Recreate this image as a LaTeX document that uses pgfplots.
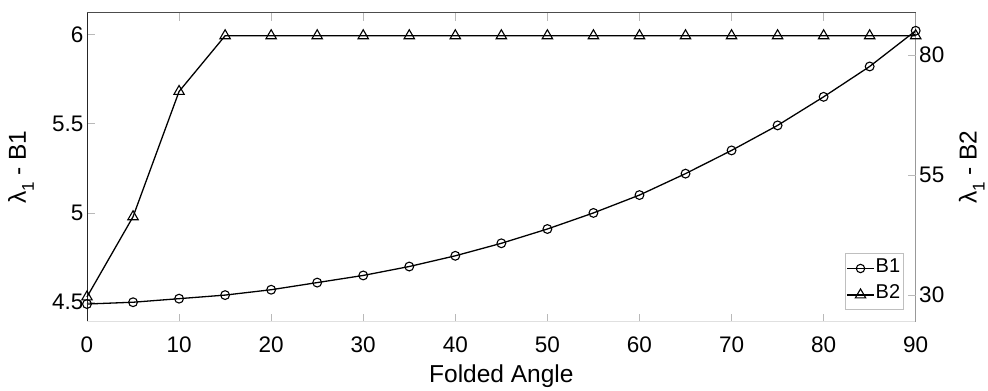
\documentclass[border=0pt]{standalone}
\usepackage{pgfplots}
\pgfplotsset{compat=1.18}
\usepackage{fontspec}
\setmainfont{Liberation Sans}
\pgfplotstableread{
x y
0 4.49
5 4.50
10 4.52
15 4.54
20 4.57
25 4.61
30 4.65
35 4.70
40 4.76
45 4.83
50 4.91
55 5.00
60 5.10
65 5.22
70 5.35
75 5.49
80 5.65
85 5.82
90 6.02
}\bone
\pgfplotstableread{
x y
0 29.6
5 46.3
10 72.4
15 84.0
20 84.0
25 84.0
30 84.0
35 84.0
40 84.0
45 84.0
50 84.0
55 84.0
60 84.0
65 84.0
70 84.0
75 84.0
80 84.0
85 84.0
90 84.0
}\btwo
\newcommand{\lam}{λ\raisebox{-0.32em}{\fontsize{17}{17}\selectfont 1}}
\begin{document}
\begin{tikzpicture}
\pgfplotsset{
  every axis/.append style={
    scale only axis, width=828.7pt, height=309pt,
    xmin=0, xmax=90, clip=false,
    font=\fontsize{22.5}{26}\selectfont,
    tick align=inside, major tick length=8pt,
    tick style={gray!55, line width=0.8pt},
    /pgf/number format/assume math mode=true,
    axis line style={draw=none},
  },
  mystyle/.style={black, line width=1.3pt, mark options={solid, line width=1.1pt, fill=none}},
}
\begin{axis}[
  xtick={0,10,...,90},
  xtick pos=both,
  ytick={4.5,5,5.5,6},
  ytick pos=left,
  ymin=4.391, ymax=6.121,
  xticklabel style={anchor=base, yshift=-30.6pt},
  every axis x label/.style={at={([yshift=-61pt]rel axis cs:0.5,0)}, anchor=base, font=\fontsize{24.5}{28}\selectfont},
  every axis y label/.style={at={([xshift=-61pt]rel axis cs:0,0.5)}, anchor=base, rotate=90, font=\fontsize{24.5}{28}\selectfont},
  xlabel={Folded Angle},
  ylabel={\lam\ - B1},
]
\addplot[mystyle, mark=o, mark size=4.4pt] table[x=x,y=y]{\bone};
\draw[black!85, line width=0.9pt] (rel axis cs:0,0) -- (rel axis cs:0,1);
\draw[black!70, line width=0.9pt] (rel axis cs:0,1) -- (rel axis cs:1,1);
\draw[black!12, line width=0.9pt] (rel axis cs:0,0) -- (rel axis cs:1,0);
\draw[black!40, line width=0.9pt] (rel axis cs:1,0) -- (rel axis cs:1,1);
\end{axis}
\begin{axis}[
  axis x line=none,
  axis y line*=right,
  ymin=24.44, ymax=88.8,
  ytick={30,55,80},
  ytick pos=right,
  every axis y label/.style={at={([xshift=61pt]rel axis cs:1,0.5)}, anchor=base, rotate=90, font=\fontsize{24.5}{28}\selectfont},
  ylabel={\lam\ - B2},
  legend cell align=left,
  legend style={at={([xshift=-12.4pt,yshift=11.7pt]rel axis cs:1,0)}, anchor=south east, draw=black!25, line width=0.8pt, font=\fontsize{20}{22}\selectfont, inner xsep=1.5pt, inner ysep=1.5pt, nodes={font=\fontsize{20}{22}\selectfont, inner sep=1.2pt, text height=16pt, text depth=8pt}},
  legend image code/.code={\draw[mark repeat=2,mark phase=2,#1] plot coordinates {(0cm,0cm)(0.47cm,0cm)(0.94cm,0cm)};},
]
\addlegendimage{mystyle, line width=1pt, mark=o, mark size=4.2pt}
\addlegendentry{B1}
\addplot[mystyle, mark=triangle, mark size=6pt] table[x=x,y=y]{\btwo};
\addlegendentry{B2}
\end{axis}
\pgfresetboundingbox
\path[use as bounding box] ([xshift=-87pt,yshift=-68.3pt]current axis.south west) rectangle ([xshift=72.3pt,yshift=12.7pt]current axis.north east);
\end{tikzpicture}
\end{document}
